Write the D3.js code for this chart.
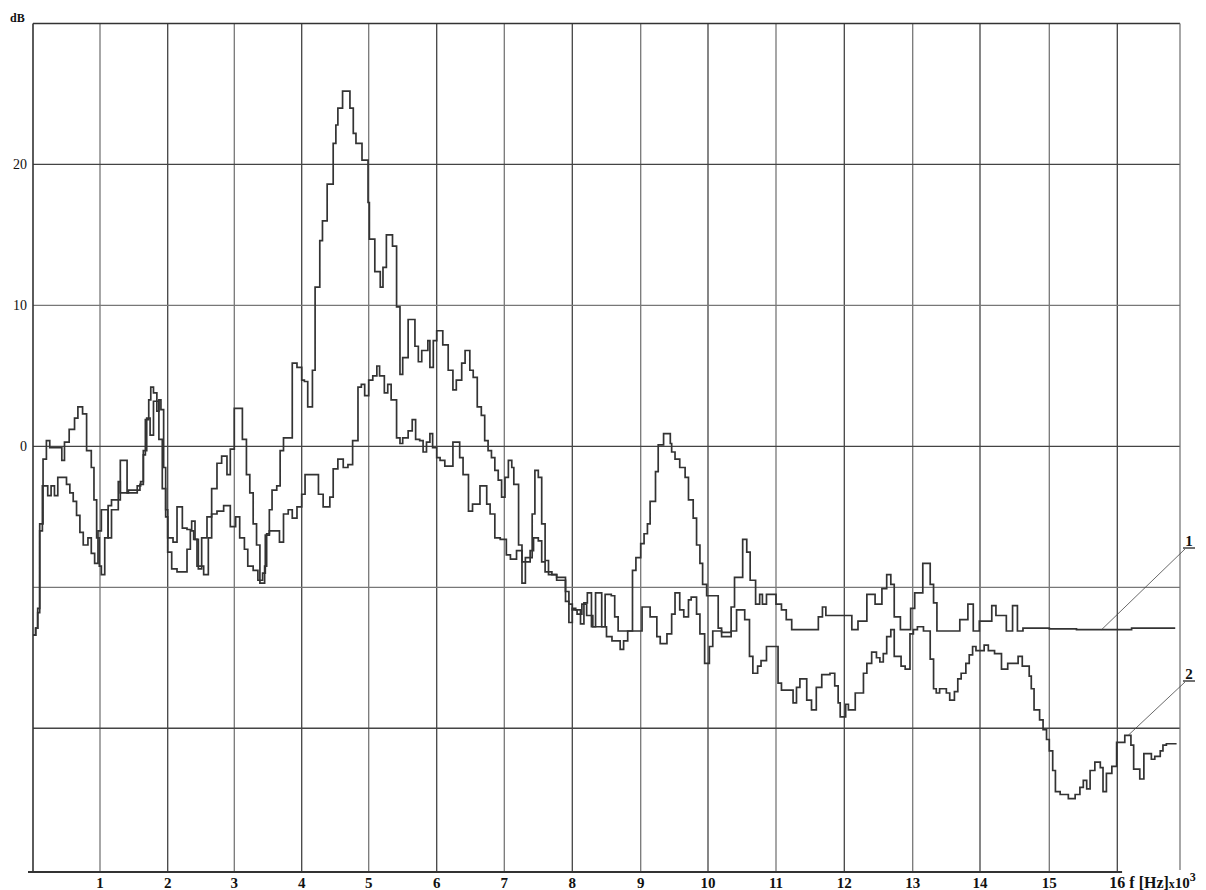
<!DOCTYPE html>
<html>
<head>
<meta charset="utf-8">
<script src="https://cdn.jsdelivr.net/npm/d3@7"></script>
<style>
body{margin:0;background:#fff;}
svg{display:block;}
text{font-family:"Liberation Serif","Times New Roman",serif;fill:#111;}
</style>
</head>
<body>
<script>
// kHz ticks and dB gridlines
const xTicks=[1,2,3,4,5,6,7,8,9,10,11,12,13,14,15,16];
const yGrid=[20,10,0,-10,-20];
const yLabels=[20,10,0];

// curve 1 : [f kHz, dB]
const curve1=[[0,-13.4],[0.04,-12.9],[0.07,-11.5],[0.1,-5.5],[0.15,-0.9],[0.2,0.4],[0.25,-0.1],[0.43,-1.0],[0.47,0.3],[0.54,1.2],[0.62,2.0],[0.67,2.8],[0.74,2.3],[0.8,-0.3],[0.87,-1.5],[0.91,-3.8],[0.95,-6.5],[0.99,-8.5],[1.02,-9.1],[1.07,-6.5],[1.12,-4.2],[1.17,-3.8],[1.3,-1.0],[1.4,-3.3],[1.55,-2.8],[1.6,-2.5],[1.64,-0.6],[1.67,1.9],[1.72,3.3],[1.75,4.2],[1.79,3.8],[1.84,2.5],[1.87,3.3],[1.9,2.6],[1.94,-1.5],[1.97,-5.0],[2.0,-6.5],[2.08,-6.8],[2.14,-4.3],[2.22,-5.8],[2.29,-5.9],[2.36,-5.3],[2.41,-6.6],[2.46,-8.7],[2.51,-6.5],[2.59,-5.0],[2.66,-3.0],[2.74,-1.2],[2.81,-0.7],[2.89,-2.0],[2.94,-0.2],[3.0,2.7],[3.12,0.5],[3.18,-2.0],[3.23,-3.3],[3.28,-5.5],[3.33,-7.0],[3.38,-9.7],[3.45,-8.5],[3.48,-6.2],[3.52,-4.5],[3.56,-3.1],[3.63,-2.8],[3.68,-0.3],[3.73,0.6],[3.86,5.9],[3.93,5.6],[4.0,4.7],[4.04,4.6],[4.09,2.8],[4.16,5.4],[4.2,11.3],[4.27,14.6],[4.31,16.0],[4.38,18.6],[4.47,21.5],[4.51,22.8],[4.54,24.0],[4.61,25.2],[4.72,24.0],[4.77,22.2],[4.81,21.5],[4.9,20.3],[4.99,17.3],[5.01,14.7],[5.09,12.4],[5.17,11.3],[5.21,12.7],[5.26,15.0],[5.35,14.2],[5.41,9.9],[5.46,5.1],[5.5,6.3],[5.58,9.0],[5.68,7.1],[5.73,6.0],[5.78,6.8],[5.87,7.5],[5.9,5.6],[5.95,7.5],[6.0,8.2],[6.09,7.2],[6.17,5.4],[6.24,4.0],[6.29,4.7],[6.37,5.9],[6.42,6.8],[6.49,5.4],[6.54,4.9],[6.6,2.8],[6.66,2.2],[6.71,0.4],[6.76,-0.3],[6.81,-0.8],[6.86,-1.7],[6.91,-2.4],[6.96,-3.6],[7.01,-2.2],[7.06,-1.0],[7.11,-1.5],[7.14,-2.7],[7.21,-7.0],[7.26,-9.7],[7.31,-7.9],[7.41,-4.8],[7.45,-1.7],[7.5,-2.2],[7.55,-5.5],[7.6,-8.1],[7.65,-9.1],[7.77,-9.5],[7.9,-11.0],[7.95,-12.5],[8.0,-11.5],[8.05,-11.6],[8.12,-12.6],[8.17,-11.1],[8.22,-10.4],[8.28,-12.8],[8.34,-10.4],[8.43,-12.8],[8.48,-10.5],[8.57,-10.6],[8.62,-12.1],[8.67,-13.1],[8.88,-8.8],[8.93,-7.9],[9.0,-6.9],[9.05,-6.2],[9.1,-5.5],[9.14,-3.9],[9.22,-1.8],[9.26,0.1],[9.34,0.9],[9.44,0.2],[9.46,-0.4],[9.51,-0.9],[9.58,-1.5],[9.66,-2.2],[9.71,-3.8],[9.78,-5.1],[9.83,-7.0],[9.88,-8.3],[9.92,-9.8],[9.98,-10.6],[10.15,-12.9],[10.2,-13.2],[10.34,-11.4],[10.39,-9.3],[10.51,-6.6],[10.57,-7.5],[10.62,-9.5],[10.7,-11.2],[10.76,-10.5],[10.8,-11.2],[10.86,-10.5],[11.0,-11.2],[11.08,-11.6],[11.15,-12.3],[11.23,-13.0],[11.62,-12.1],[11.68,-11.4],[11.73,-12.0],[12.11,-13.0],[12.2,-12.4],[12.33,-10.5],[12.45,-11.2],[12.55,-10.1],[12.62,-9.1],[12.68,-9.8],[12.73,-12.1],[12.82,-13.0],[12.97,-11.5],[13.03,-10.4],[13.15,-8.3],[13.26,-9.8],[13.31,-11.1],[13.36,-13.1],[13.7,-12.3],[13.82,-11.2],[13.9,-13.1],[13.99,-12.4],[14.17,-11.3],[14.23,-12.0],[14.38,-13.1],[14.47,-11.3],[14.54,-13.1],[14.62,-12.9],[15.0,-12.95],[15.4,-13.0],[16.21,-12.9],[16.85,-12.9]];

// curve 2 : [f kHz, dB]
const curve2=[[0,-13.4],[0.04,-12.9],[0.07,-11.8],[0.1,-6.0],[0.14,-2.8],[0.22,-3.5],[0.27,-2.8],[0.32,-3.5],[0.37,-2.2],[0.5,-2.7],[0.55,-3.3],[0.6,-3.9],[0.65,-4.9],[0.7,-6.1],[0.75,-7.0],[0.82,-6.5],[0.87,-7.6],[0.92,-8.3],[0.97,-6.0],[1.02,-4.5],[1.12,-6.5],[1.17,-4.5],[1.27,-2.5],[1.3,-3.3],[1.42,-3.1],[1.59,-2.7],[1.64,-0.3],[1.69,2.0],[1.74,0.8],[1.79,3.2],[1.87,0.5],[1.92,-3.0],[1.97,-4.5],[2.0,-7.5],[2.06,-8.7],[2.14,-8.9],[2.29,-7.3],[2.34,-6.0],[2.39,-6.6],[2.44,-8.5],[2.54,-9.1],[2.61,-6.5],[2.66,-4.8],[2.74,-4.6],[2.84,-4.2],[2.94,-5.7],[3.02,-5.0],[3.08,-6.5],[3.15,-7.3],[3.2,-8.5],[3.28,-8.8],[3.35,-9.5],[3.42,-9.0],[3.46,-6.3],[3.52,-6.0],[3.6,-6.0],[3.67,-6.8],[3.73,-4.8],[3.8,-4.5],[3.86,-5.1],[3.93,-4.3],[4.0,-3.4],[4.05,-2.0],[4.25,-3.4],[4.32,-4.3],[4.42,-3.6],[4.47,-1.6],[4.54,-0.9],[4.62,-1.5],[4.69,-1.3],[4.76,0.4],[4.84,4.2],[4.89,4.4],[4.94,3.6],[5.0,4.7],[5.06,5.0],[5.12,5.7],[5.16,5.0],[5.23,3.8],[5.28,4.4],[5.33,3.3],[5.41,0.6],[5.46,0.2],[5.5,0.6],[5.58,1.1],[5.64,1.9],[5.69,0.5],[5.75,0.4],[5.8,-0.4],[5.85,0.3],[5.9,0.9],[5.94,-0.1],[6.0,-0.8],[6.05,-1.0],[6.12,-1.4],[6.24,0.3],[6.34,-0.8],[6.39,-2.0],[6.47,-4.6],[6.53,-4.1],[6.64,-2.8],[6.74,-4.1],[6.79,-4.8],[6.86,-6.5],[6.94,-6.6],[7.03,-7.7],[7.09,-8.0],[7.18,-7.4],[7.26,-8.2],[7.38,-7.4],[7.43,-6.5],[7.5,-6.7],[7.55,-8.2],[7.6,-8.9],[7.7,-9.1],[7.77,-9.3],[7.9,-10.3],[7.95,-11.2],[8.0,-11.6],[8.07,-11.9],[8.14,-11.2],[8.21,-12.0],[8.3,-12.8],[8.5,-13.5],[8.58,-13.8],[8.7,-14.4],[8.75,-13.8],[8.81,-13.1],[9.02,-11.4],[9.14,-12.1],[9.24,-13.5],[9.29,-14.0],[9.39,-13.3],[9.46,-11.9],[9.51,-10.4],[9.58,-11.6],[9.64,-12.1],[9.71,-10.9],[9.75,-10.7],[9.83,-11.9],[9.88,-13.3],[9.95,-15.4],[10.02,-14.2],[10.07,-13.1],[10.2,-13.5],[10.34,-13.1],[10.42,-11.6],[10.54,-12.3],[10.61,-14.9],[10.66,-16.1],[10.73,-15.6],[10.78,-15.2],[10.86,-14.2],[11.03,-16.8],[11.08,-17.3],[11.25,-18.2],[11.3,-17.1],[11.35,-16.5],[11.45,-18.0],[11.52,-18.7],[11.59,-17.1],[11.67,-16.2],[11.79,-16.1],[11.86,-17.0],[11.91,-18.2],[11.94,-19.2],[12.02,-18.3],[12.06,-18.7],[12.16,-17.5],[12.28,-16.1],[12.33,-15.4],[12.4,-14.6],[12.47,-15.0],[12.52,-15.3],[12.57,-14.7],[12.62,-13.5],[12.68,-13.0],[12.73,-14.9],[12.83,-15.6],[12.89,-15.8],[12.96,-13.3],[13.01,-13.0],[13.07,-12.8],[13.16,-13.1],[13.26,-15.1],[13.31,-17.2],[13.35,-17.5],[13.4,-17.2],[13.5,-17.5],[13.55,-18.0],[13.62,-17.4],[13.67,-16.5],[13.72,-16.1],[13.79,-15.4],[13.84,-14.8],[13.89,-14.2],[13.94,-14.5],[14.06,-14.1],[14.12,-14.5],[14.21,-14.7],[14.31,-15.8],[14.4,-15.4],[14.55,-14.9],[14.61,-15.6],[14.71,-16.3],[14.74,-17.2],[14.78,-18.7],[14.86,-19.4],[14.91,-20.1],[14.96,-20.8],[15.0,-21.6],[15.05,-23.0],[15.09,-24.5],[15.16,-24.7],[15.28,-25.0],[15.38,-24.7],[15.45,-24.2],[15.5,-23.7],[15.55,-24.3],[15.6,-23.0],[15.67,-22.4],[15.75,-22.8],[15.79,-24.5],[15.84,-23.2],[15.92,-22.7],[15.99,-21.0],[16.11,-20.5],[16.2,-21.2],[16.24,-22.9],[16.33,-23.6],[16.39,-21.8],[16.5,-22.2],[16.55,-22.0],[16.63,-21.6],[16.67,-21.2],[16.72,-21.1],[16.87,-21.1]];

// curve tags: name, anchor frequency on its curve
const tags=[{name:'1',data:curve1,f:15.77,tx:1189,ty:546},{name:'2',data:curve2,f:16.16,tx:1189,ty:679}];

const W=1206,H=890;
const svg=d3.select('body').append('svg').attr('width',W).attr('height',H).style('background','white');

// the scanned grid is not quite even, so the kHz scale is piecewise
const fMax=16.92;
const x=d3.scaleLinear()
  .domain([0,1,2,3,4,5,6,7,8,9,10,11,12,13,14,15,16,fMax])
  .range([33,100,167.7,234.3,301.7,368.7,436.7,504.3,572.3,640.7,708,776,844.3,912.7,980,1049.3,1117.3,1180]);
const y=d3.scaleLinear().domain([-30.2,30]).range([872,23.5]);
const yTop=y(30),yBot=y(-30.2);

// grid
const g=svg.append('g');
g.selectAll('.vg').data(xTicks).enter().append('line')
  .attr('x1',d=>x(d)).attr('x2',d=>x(d)).attr('y1',yTop).attr('y2',yBot)
  .attr('stroke',(d,i)=>i%2?'#444':'#777').attr('stroke-width',1.3);
g.selectAll('.hg').data(yGrid).enter().append('line')
  .attr('x1',x(0)).attr('x2',x(fMax)).attr('y1',d=>y(d)).attr('y2',d=>y(d))
  .attr('stroke',(d,i)=>i%2?'#777':'#444').attr('stroke-width',1.3);

// frame
g.append('line').attr('x1',x(0)).attr('x2',x(fMax)).attr('y1',yTop).attr('y2',yTop).attr('stroke','#333').attr('stroke-width',1.6);
g.append('line').attr('x1',x(0)).attr('x2',x(0)).attr('y1',yTop).attr('y2',yBot).attr('stroke','#333').attr('stroke-width',1.6);
g.append('line').attr('x1',x(fMax)).attr('x2',x(fMax)).attr('y1',yTop).attr('y2',yBot-2).attr('stroke','#777').attr('stroke-width',1.3);
g.append('line').attr('x1',x(0)-5).attr('x2',x(16.07)).attr('y1',yBot).attr('y2',yBot).attr('stroke','#333').attr('stroke-width',1.8);

// x labels
svg.selectAll('.xl').data(xTicks.slice(0,-1)).enter().append('text')
  .attr('x',d=>x(d)).attr('y',888).attr('text-anchor','middle')
  .style('font-size','15px').style('font-weight','bold').text(d=>d);
const xt=svg.append('text').attr('x',x(16)-8).attr('y',888).style('font-size','16px').style('font-weight','bold');
xt.append('tspan').text('16 f [Hz]');
xt.append('tspan').style('font-size','12px').text('x');
xt.append('tspan').style('font-size','15px').text('10');
xt.append('tspan').attr('dy',-7).style('font-size','12px').text('3');

// y labels
svg.selectAll('.yl').data(yLabels).enter().append('text')
  .attr('x',27).attr('y',d=>y(d)+5).attr('text-anchor','end')
  .style('font-size','14px').text(d=>d);
svg.append('text').attr('x',10).attr('y',22).style('font-size','12px').style('font-weight','bold').text('dB');

// curves
const line=d3.line().x(d=>x(d[0])).y(d=>y(d[1])).curve(d3.curveStepAfter);
svg.selectAll('.curve').data([curve1,curve2]).enter().append('path')
  .attr('d',line).attr('fill','none').attr('stroke','#333').attr('stroke-width',1.7);

// curve tags with leader lines
tags.forEach(t=>{
  const b=d3.bisector(d=>d[0]).right(t.data,t.f)-1;
  const ay=y(t.data[Math.max(b,0)][1]);
  svg.append('line').attr('x1',t.tx-4).attr('y1',t.ty+3).attr('x2',x(t.f)).attr('y2',ay)
    .attr('stroke','#444').attr('stroke-width',0.8);
  svg.append('text').attr('x',t.tx).attr('y',t.ty).attr('text-anchor','middle')
    .style('font-size','15px').style('font-weight','bold').text(t.name);
  svg.append('line').attr('x1',t.tx-6).attr('x2',t.tx+6).attr('y1',t.ty+2).attr('y2',t.ty+2)
    .attr('stroke','#111').attr('stroke-width',1.2);
});
</script>
</body>
</html>
